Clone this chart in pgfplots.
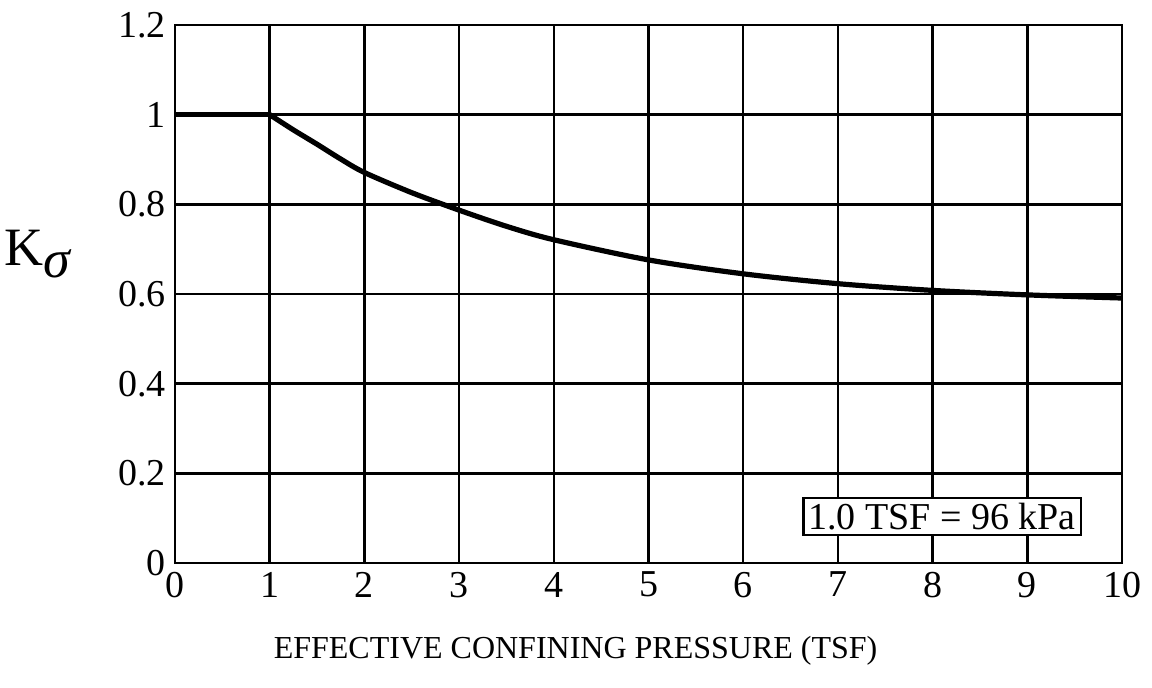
\documentclass[border=0pt]{standalone}
\usepackage{fontspec}
\setmainfont{Liberation Serif}
\usepackage{pgfplots}
\usepackage{pgfplotstable}
\pgfplotsset{compat=1.18}

% K_sigma: flat part, then the falling curve
\pgfplotstableread{
x     k
0     1.000
1     1.000
}\kflat
\pgfplotstableread{
x     k
1     1.000
1.25  0.966
1.5   0.934
1.75  0.901
2     0.871
2.5   0.826
3     0.787
3.5   0.751
4     0.721
5     0.676
6     0.645
7     0.623
8     0.608
9     0.598
10    0.591
}\kcurve

\begin{document}
\begin{tikzpicture}
\path[use as bounding box] (-87.5pt,-62.5pt) rectangle (488.5pt,281.5pt);
\begin{axis}[
    scale only axis,
    width=473.5pt, height=269pt,
    xmin=0, xmax=10, ymin=0, ymax=1.2,
    xtick={0,1,...,10},
    ytick={0,0.2,0.4,0.6,0.8,1,1.2},
    yticklabels={0,0.2,0.4,0.6,0.8,1,1.2},
    grid=major,
    major grid style={black, line width=1.2pt},
    axis line style={black, line width=1.4pt},
    major tick length=0pt,
    tick label style={font=\fontsize{19}{19}\selectfont},
    /pgf/number format/assume math mode=true,
    xticklabel style={yshift=-1pt},
    yticklabel style={xshift=-1pt},
    clip=false,
]
\addplot[black, line width=2.6pt] table[x=x, y=k] {\kflat};
\addplot[black, line width=2.6pt, smooth, tension=0.5] table[x=x, y=k] {\kcurve};
\node[draw=black, line width=1.2pt, fill=white, inner sep=2.5pt,
      font=\fontsize{19}{19}\selectfont] at (axis cs:8.1,0.104) {1.0 TSF = 96 kPa};
\node[font=\fontsize{16}{16}\selectfont] at (axis cs:4.23,-0.196)
      {EFFECTIVE CONFINING PRESSURE (TSF)};
\node[font=\fontsize{27}{27}\selectfont] at (axis cs:-1.45,0.69) {K\raisebox{-6pt}{\textit{σ}}};
\end{axis}
\end{tikzpicture}
\end{document}
